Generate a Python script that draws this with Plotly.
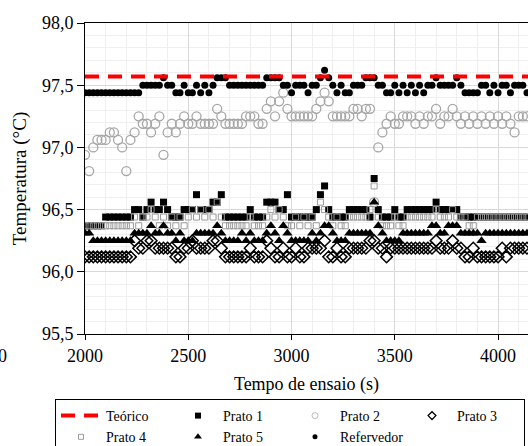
import plotly.graph_objects as go

# sample times (s)
tempo = list(range(2000, 4141, 20))

teorico_valor = 97.57
teorico_x = [2000, 4145]

refervedor = [
    97.44, 97.44, 97.44, 97.44, 97.44, 97.44, 97.44, 97.44, 97.44, 97.44,
    97.44, 97.44, 97.44, 97.44, 97.5, 97.5, 97.5, 97.5, 97.5, 97.56,
    97.5, 97.5, 97.44, 97.44, 97.5, 97.44, 97.44, 97.5, 97.44, 97.5,
    97.44, 97.5, 97.56, 97.56, 97.56, 97.5, 97.5, 97.5, 97.5, 97.5,
    97.5, 97.5, 97.5, 97.5, 97.56, 97.56, 97.56, 97.56, 97.5, 97.5,
    97.44, 97.5, 97.5, 97.5, 97.44, 97.5, 97.5, 97.56, 97.62, 97.56,
    97.5, 97.44, 97.5, 97.44, 97.44, 97.5, 97.5, 97.5, 97.56, 97.56,
    97.56, 97.5, 97.5, 97.44, 97.44, 97.5, 97.44, 97.5, 97.44, 97.5,
    97.44, 97.5, 97.44, 97.5, 97.5, 97.56, 97.5, 97.5, 97.5, 97.5,
    97.56, 97.5, 97.44, 97.44, 97.44, 97.44, 97.5, 97.5, 97.44, 97.5,
    97.44, 97.5, 97.5, 97.44, 97.5, 97.5, 97.5, 97.44]

prato2 = [
    96.94, 96.81, 97.0, 97.06, 97.06, 97.06, 97.12, 97.12, 97.06, 97.0,
    96.81, 97.06, 97.12, 97.25, 97.19, 97.19, 97.12, 97.19, 97.25, 96.94,
    97.12, 97.19, 97.12, 97.19, 97.25, 97.19, 97.19, 97.25, 97.19, 97.19,
    97.19, 97.19, 97.31, 97.25, 97.19, 97.19, 97.19, 97.19, 97.19, 97.25,
    97.25, 97.25, 97.19, 97.19, 97.31, 97.37, 97.25, 97.37, 97.44, 97.31,
    97.25, 97.25, 97.25, 97.25, 97.25, 97.25, 97.31, 97.37, 97.44, 97.37,
    97.25, 97.25, 97.25, 97.25, 97.25, 97.31, 97.31, 97.25, 97.31, 97.31,
    96.56, 97.0, 97.12, 97.19, 97.25, 97.19, 97.19, 97.25, 97.25, 97.25,
    97.19, 97.25, 97.19, 97.25, 97.25, 97.31, 97.19, 97.25, 97.25, 97.31,
    97.25, 97.19, 97.25, 97.19, 97.25, 97.19, 97.25, 97.19, 97.25, 97.19,
    97.25, 97.19, 97.25, 97.19, 97.12, 97.25, 97.25, 97.25]

prato1 = [
    96.37, 96.37, 96.37, 96.37, 96.37, 96.44, 96.44, 96.44, 96.44, 96.44,
    96.44, 96.44, 96.5, 96.5, 96.44, 96.5, 96.56, 96.5, 96.5, 96.56,
    96.5, 96.44, 96.44, 96.44, 96.5, 96.5, 96.5, 96.62, 96.5, 96.5,
    96.5, 96.56, 96.56, 96.62, 96.44, 96.44, 96.44, 96.44, 96.44, 96.44,
    96.5, 96.44, 96.44, 96.44, 96.56, 96.56, 96.56, 96.5, 96.5, 96.62,
    96.44, 96.44, 96.44, 96.44, 96.44, 96.44, 96.5, 96.62, 96.69, 96.5,
    96.44, 96.44, 96.44, 96.44, 96.5, 96.5, 96.5, 96.5, 96.5, 96.44,
    96.75, 96.5, 96.44, 96.44, 96.44, 96.5, 96.44, 96.44, 96.5, 96.5,
    96.5, 96.5, 96.5, 96.5, 96.5, 96.56, 96.5, 96.5, 96.5, 96.5,
    96.5, 96.44, 96.44, 96.44, 96.44, 96.44, 96.44, 96.44, 96.44, 96.44,
    96.44, 96.44, 96.44, 96.44, 96.44, 96.44, 96.44, 96.44]

prato4 = [
    96.37, 96.37, 96.37, 96.37, 96.37, 96.37, 96.37, 96.37, 96.37, 96.37,
    96.37, 96.37, 96.44, 96.37, 96.44, 96.44, 96.5, 96.44, 96.37, 96.44,
    96.37, 96.44, 96.37, 96.44, 96.37, 96.44, 96.5, 96.44, 96.5, 96.44,
    96.5, 96.44, 96.56, 96.44, 96.37, 96.37, 96.37, 96.37, 96.37, 96.37,
    96.44, 96.37, 96.37, 96.37, 96.44, 96.5, 96.44, 96.5, 96.44, 96.37,
    96.37, 96.44, 96.37, 96.44, 96.37, 96.44, 96.37, 96.56, 96.5, 96.44,
    96.37, 96.44, 96.37, 96.37, 96.44, 96.44, 96.44, 96.44, 96.44, 96.5,
    96.69, 96.44, 96.37, 96.37, 96.37, 96.44, 96.37, 96.37, 96.44, 96.44,
    96.44, 96.44, 96.44, 96.44, 96.44, 96.5, 96.44, 96.44, 96.44, 96.5,
    96.44, 96.44, 96.44, 96.37, 96.37, 96.44, 96.44, 96.44, 96.44, 96.44,
    96.44, 96.44, 96.44, 96.44, 96.44, 96.44, 96.44, 96.44]

prato5 = [
    96.31, 96.31, 96.25, 96.25, 96.25, 96.25, 96.25, 96.25, 96.25, 96.25,
    96.25, 96.25, 96.31, 96.31, 96.31, 96.31, 96.37, 96.31, 96.31, 96.37,
    96.31, 96.31, 96.25, 96.31, 96.25, 96.25, 96.25, 96.31, 96.31, 96.31,
    96.31, 96.31, 96.37, 96.31, 96.25, 96.25, 96.25, 96.25, 96.31, 96.25,
    96.31, 96.25, 96.25, 96.25, 96.31, 96.37, 96.31, 96.25, 96.37, 96.31,
    96.25, 96.25, 96.25, 96.25, 96.25, 96.31, 96.25, 96.31, 96.37, 96.37,
    96.31, 96.25, 96.25, 96.25, 96.31, 96.31, 96.31, 96.31, 96.31, 96.31,
    96.56, 96.37, 96.31, 96.25, 96.25, 96.25, 96.25, 96.31, 96.31, 96.31,
    96.31, 96.31, 96.31, 96.31, 96.37, 96.37, 96.31, 96.31, 96.37, 96.37,
    96.37, 96.31, 96.31, 96.31, 96.31, 96.31, 96.25, 96.31, 96.31, 96.31,
    96.31, 96.31, 96.31, 96.31, 96.31, 96.31, 96.31, 96.31]

prato3 = [
    96.12, 96.12, 96.12, 96.12, 96.12, 96.12, 96.12, 96.12, 96.12, 96.12,
    96.12, 96.12, 96.25, 96.19, 96.19, 96.25, 96.25, 96.19, 96.19, 96.19,
    96.19, 96.19, 96.12, 96.12, 96.19, 96.19, 96.25, 96.19, 96.19, 96.19,
    96.19, 96.25, 96.25, 96.19, 96.12, 96.12, 96.12, 96.12, 96.12, 96.12,
    96.19, 96.12, 96.12, 96.12, 96.25, 96.19, 96.12, 96.12, 96.19, 96.12,
    96.12, 96.19, 96.12, 96.12, 96.19, 96.19, 96.19, 96.19, 96.25, 96.12,
    96.12, 96.19, 96.12, 96.12, 96.19, 96.19, 96.19, 96.19, 96.19, 96.25,
    96.25, 96.19, 96.19, 96.12, 96.19, 96.19, 96.19, 96.19, 96.19, 96.19,
    96.19, 96.19, 96.19, 96.19, 96.19, 96.25, 96.19, 96.19, 96.19, 96.25,
    96.19, 96.19, 96.12, 96.12, 96.19, 96.12, 96.12, 96.12, 96.12, 96.12,
    96.12, 96.19, 96.12, 96.19, 96.19, 96.19, 96.19, 96.19]

x_ticks = [2000, 2500, 3000, 3500, 4000]
y_ticks = [95.5, 96.0, 96.5, 97.0, 97.5, 98.0]

FONT = "Liberation Serif"

fig = go.Figure()

# (name, values, plot marker, legend marker)
series = [
    ("Prato 1", prato1,
     dict(symbol="square", size=7, color="black"),
     dict(symbol="square", size=6, color="black")),
    ("Prato 2", prato2,
     dict(symbol="circle-open", size=9, color="#a6a6a6", line=dict(width=1.3, color="#a6a6a6")),
     dict(symbol="circle-open", size=6, color="#bdbdbd", line=dict(width=1, color="#bdbdbd"))),
    ("Prato 3", prato3,
     dict(symbol="diamond-open", size=9, color="black", line=dict(width=1.5, color="black")),
     dict(symbol="diamond-open", size=6, color="black", line=dict(width=1.3, color="black"))),
    ("Prato 4", prato4,
     dict(symbol="square-open", size=6, color="#9a9a9a", line=dict(width=1, color="#9a9a9a")),
     dict(symbol="square-open", size=5, color="#9a9a9a", line=dict(width=1, color="#9a9a9a"))),
    ("Prato 5", prato5,
     dict(symbol="triangle-up", size=9, color="black"),
     dict(symbol="triangle-up", size=7, color="black")),
    ("Refervedor", refervedor,
     dict(symbol="circle", size=7, color="black"),
     dict(symbol="circle", size=5, color="black")),
]
for name, vals, mk, _ in series:
    fig.add_trace(go.Scatter(x=tempo, y=vals, mode="markers", name=name,
                             marker=mk, showlegend=False))

fig.add_trace(go.Scatter(x=teorico_x, y=[teorico_valor, teorico_valor], mode="lines",
                         name="Teórico", legendrank=1,
                         line=dict(color="#ff0000", width=4, dash="14px,9px")))

# legend entries (no data, legend keys only)
for rank, (name, _, _, lmk) in enumerate(series, start=2):
    fig.add_trace(go.Scatter(x=[None], y=[None], mode="markers", name=name,
                             marker=lmk, legendrank=rank))

fig.update_layout(
    width=528, height=446,
    margin=dict(l=85, r=0, t=23, b=112, autoexpand=False),
    paper_bgcolor="white", plot_bgcolor="white",
    separators=",.",
    font=dict(family=FONT, size=18, color="black"),
    showlegend=True,
    legend=dict(
        orientation="h", x=(55 - 85) / 443, xanchor="left",
        y=(334 - 399) / 311, yanchor="top",
        bordercolor="black", borderwidth=1, bgcolor="white",
        font=dict(family=FONT, size=14, color="black"),
        itemwidth=40, entrywidth=62, traceorder="normal",
    ),
    annotations=[dict(text="0", x=(9 - 85) / 443, y=(334 - 356) / 311,
                      xref="paper", yref="paper", xanchor="right", yanchor="middle",
                      showarrow=False, font=dict(family=FONT, size=18, color="black"))],
)

fig.update_xaxes(
    range=[2000, 4145], tickvals=x_ticks, ticktext=[str(v) for v in x_ticks],
    tickfont=dict(family=FONT, size=18),
    showline=True, linecolor="black", linewidth=1, mirror=True,
    ticks="outside", ticklen=5, tickcolor="black",
    showgrid=True, gridcolor="#d9d9d9", gridwidth=1,
    minor=dict(dtick=100, showgrid=True, gridcolor="#efefef", gridwidth=1),
    zeroline=False,
    title=dict(text="Tempo de ensaio (s)", font=dict(family=FONT, size=18), standoff=12),
)
fig.update_yaxes(
    range=[95.5, 98.0], tickvals=y_ticks, tickformat=".1f",
    tickfont=dict(family=FONT, size=18),
    showline=True, linecolor="black", linewidth=1,
    ticks="outside", ticklen=7, tickcolor="black",
    showgrid=True, gridcolor="#d9d9d9", gridwidth=1,
    minor=dict(dtick=0.1, showgrid=True, gridcolor="#efefef", gridwidth=1),
    zeroline=False,
    title=dict(text="Temperatura (°C)", font=dict(family=FONT, size=19), standoff=10),
)

fig.write_html("out.html")
